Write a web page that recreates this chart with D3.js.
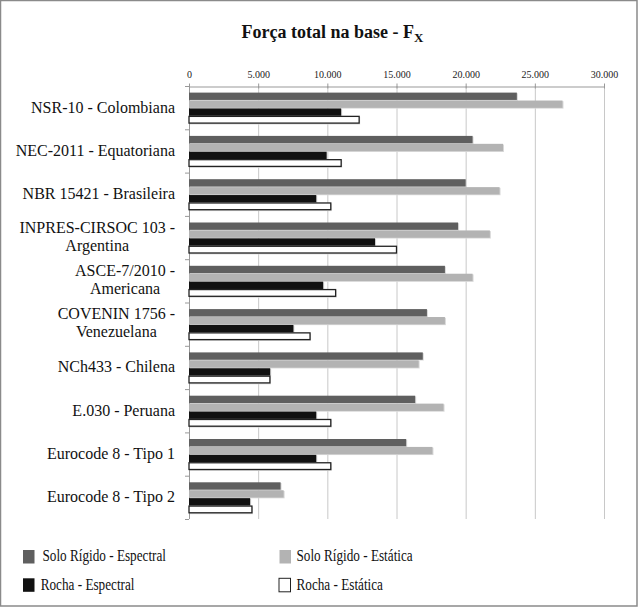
<!DOCTYPE html>
<html><head><meta charset="utf-8">
<script src="https://cdn.jsdelivr.net/npm/d3@7"></script>
<style>body{margin:0;background:#fff}svg{display:block}</style>
</head><body><svg id="c" width="638" height="607"></svg>
<script>
const categories = [
  ["NSR-10 - Colombiana"],
  ["NEC-2011 - Equatoriana"],
  ["NBR 15421 - Brasileira"],
  ["INPRES-CIRSOC 103 -", "Argentina"],
  ["ASCE-7/2010 -", "Americana"],
  ["COVENIN 1756 -", "Venezuelana"],
  ["NCh433 - Chilena"],
  ["E.030 - Peruana"],
  ["Eurocode 8 - Tipo 1"],
  ["Eurocode 8 - Tipo 2"]
];
const seriesNames = ["Solo Rígido - Espectral", "Solo Rígido - Estática", "Rocha - Espectral", "Rocha - Estática"];
const soloEspectral = [23700, 20500, 20000, 19450, 18500, 17200, 16900, 16350, 15700, 6620];
const soloEstatica  = [27000, 22700, 22450, 21750, 20500, 18500, 16600, 18400, 17600, 6840];
const rochaEspectral = [11000, 9950, 9200, 13450, 9700, 7550, 5870, 9200, 9200, 4420];
const rochaEstatica  = [12300, 11000, 10250, 15000, 10600, 8750, 5850, 10250, 10250, 4550];
const tickValues = [0, 5000, 10000, 15000, 20000, 25000, 30000];
const tickLabels = ["0", "5.000", "10.000", "15.000", "20.000", "25.000", "30.000"];

const seriesValues = [soloEspectral, soloEstatica, rochaEspectral, rochaEstatica];
const fills = ["#5f5f5f", "#b3b3b3", "#111111", "#ffffff"];
const strokes = ["none", "none", "none", "#222"];

const svg = d3.select("#c");
const font = "'Liberation Serif','Times New Roman',serif";

svg.append("rect").attr("x", 0.5).attr("y", 0.5).attr("width", 636.5).attr("height", 605.5)
  .attr("fill", "#fff").attr("stroke", "#8a8a8a").attr("stroke-width", 1.5);

const x = d3.scaleLinear().domain([0, 30000]).range([189, 604]);
const y = d3.scaleBand().domain(d3.range(categories.length)).range([86, 519]).paddingInner(0).paddingOuter(0);
const inner = d3.scaleBand().domain(d3.range(4)).range([6.3, 38]);

// title
const t = svg.append("text").attr("x", 332.5).attr("y", 37.7).attr("text-anchor", "middle")
  .attr("font-family", font).attr("font-weight", "bold").attr("font-size", 18).attr("fill", "#111");
t.append("tspan").text("Força total na base - F");
t.append("tspan").attr("font-size", 13).attr("dy", 4.6).text("X");

// gridlines
svg.append("g").selectAll("line").data(tickValues.slice(1)).join("line")
  .attr("x1", d => x(d) + 0.5).attr("x2", d => x(d) + 0.5).attr("y1", 86).attr("y2", 519)
  .attr("stroke", "#c8c8c8").attr("stroke-width", 1);

// top axis
const ax = svg.append("g").attr("transform", "translate(0,86.5)")
  .call(d3.axisTop(x).tickValues(tickValues).tickFormat((d, i) => tickLabels[i]).tickSize(3).tickPadding(6).tickSizeOuter(0));
ax.select(".domain").attr("stroke", "#999");
ax.selectAll(".tick line").attr("stroke", "#999").attr("y2", 2).attr("y1", -3);
ax.selectAll(".tick text").attr("font-family", font).attr("font-size", 10).attr("fill", "#222");

// left axis
svg.append("line").attr("x1", 189.5).attr("x2", 189.5).attr("y1", 86).attr("y2", 519).attr("stroke", "#999");
svg.append("g").selectAll("line").data(d3.range(categories.length + 1)).join("line")
  .attr("x1", 185).attr("x2", 189)
  .attr("y1", d => (d < categories.length ? y(d) : 519) + 0.5)
  .attr("y2", d => (d < categories.length ? y(d) : 519) + 0.5)
  .attr("stroke", "#999");

// bars
const groups = svg.append("g").selectAll("g").data(categories).join("g")
  .attr("transform", (d, i) => `translate(0,${y(i)})`);
groups.each(function (c, i) {
  const g = d3.select(this);
  seriesValues.forEach((vals, s) => {
    g.append("rect").attr("x", x(0) + 1).attr("y", inner(s) + 1)
      .attr("width", x(vals[i]) - x(0)).attr("height", inner.bandwidth() - 0.5)
      .attr("fill", "#d9d9d9");
    g.append("rect").attr("x", x(0)).attr("y", inner(s) + 0.3)
      .attr("width", x(vals[i]) - x(0)).attr("height", inner.bandwidth() - (s === 3 ? 1.2 : 0.6))
      .attr("fill", fills[s]).attr("stroke", strokes[s]).attr("stroke-width", 1.3);
  });
});

// category labels
const labels = svg.append("g").selectAll("text").data(categories).join("text")
  .attr("text-anchor", "end").attr("font-family", font).attr("font-size", 16).attr("fill", "#111");
labels.each(function (lines, i) {
  const cy = y(i) + y.bandwidth() / 2;
  const el = d3.select(this);
  if (lines.length === 1) {
    el.append("tspan").attr("x", 175).attr("y", cy + 5).text(lines[0]);
  } else {
    const first = el.append("tspan").attr("x", 175).attr("y", cy - 5).text(lines[0]);
    const w = first.node().getComputedTextLength();
    el.append("tspan").attr("x", 175 - w / 2).attr("text-anchor", "middle").attr("y", cy + 13).text(lines[1]);
  }
});

// legend
const legPos = [[23, 550, 42.5, 561], [279.5, 550, 296.5, 561], [23, 578.3, 40.7, 590], [279, 578.3, 296.5, 590]];
const leg = svg.append("g").selectAll("g").data(seriesNames).join("g");
leg.append("rect").attr("x", (d, i) => legPos[i][0]).attr("y", (d, i) => legPos[i][1])
  .attr("width", 11.5).attr("height", 13.5)
  .attr("fill", (d, i) => fills[i]).attr("stroke", (d, i) => i === 3 ? "#222" : "none");
leg.append("text")
  .attr("transform", (d, i) => `translate(${legPos[i][2]},${legPos[i][3]}) scale(0.8,1)`)
  .attr("font-family", font).attr("font-size", 16.5).attr("fill", "#111").text(d => d);
</script></body></html>
